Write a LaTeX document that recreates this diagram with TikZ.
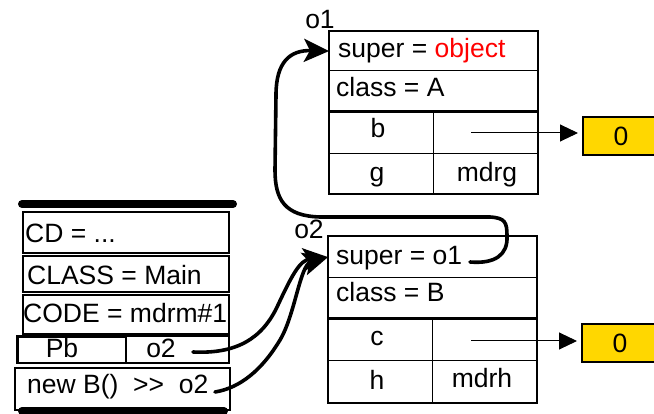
\documentclass[tikz,border=0pt]{standalone}
\usepackage{fontspec}
\setmainfont{Liberation Sans}
\usetikzlibrary{arrows.meta}
\definecolor{gold}{RGB}{255,215,0}
\tikzset{
  txt/.style={font=\fontsize{26.5}{30}\selectfont, inner sep=0pt},
  cellbox/.style={draw, line width=1.2pt, inner sep=0pt, anchor=north west},
  sbox/.style={draw, line width=2pt, inner sep=0pt, anchor=north west},
  frame/.style={line width=2.4pt},
  bar/.style={line width=8pt, line cap=round},
  link/.style={line width=3.6pt, line cap=round, -{Stealth[length=25pt,width=23pt,inset=6pt]}},
  ptr/.style={line width=1pt, shorten >=4pt, -{Triangle[length=18pt,width=17pt]}},
  zerobox/.style={draw, line width=2pt, fill=gold, inner sep=0pt, minimum width=76pt, minimum height=38pt, anchor=north west, font=\fontsize{26.5}{30}\selectfont}
}
\begin{document}
\begin{tikzpicture}[x=1pt,y=-1pt]
\useasboundingbox (0,0) rectangle (654,414);
\begin{scope}
\clip (0,0) rectangle (654,414);
% ---------- object o1 ----------
\node[txt] (o1lab) at (320,20) {o1};
\node[cellbox, minimum width=208pt, minimum height=39pt] (o1superbox) at (329,31) {};
\node[cellbox, minimum width=208pt, minimum height=40pt] (o1classbox) at (329,70) {};
\draw[frame] (o1superbox.north west) rectangle (o1classbox.south east);
\node[txt, anchor=base west] (o1super) at (338,58) {super = \textcolor{red}{object}};
\node[txt, anchor=base west] (o1class) at (336,97) {class = A};
\node[cellbox, minimum width=104pt, minimum height=41pt] (o1b) at (329,112) {};
\node[cellbox, minimum width=104pt, minimum height=41pt] (o1bv) at (433,112) {};
\node[cellbox, minimum width=104pt, minimum height=40pt] (o1g) at (329,153) {};
\node[cellbox, minimum width=104pt, minimum height=40pt] (o1gv) at (433,153) {};
\draw[frame] (o1b.north west) rectangle (o1gv.south east);
\node[txt, anchor=base] (o1bt) at (378,138) {b};
\node[txt, anchor=base] (o1gt) at (377,182) {g};
\node[txt, anchor=base] (o1gvt) at (487,182) {mdrg};
\node[zerobox] (zero1) at (582,116) {0};
\coordinate (p1) at (471,133);
\draw[ptr] (p1) -- (p1 -| zero1.west);
% ---------- object o2 ----------
\node[txt] (o2lab) at (309,229) {o2};
\node[cellbox, minimum width=208pt, minimum height=41pt] (o2superbox) at (328,236) {};
\node[cellbox, minimum width=208pt, minimum height=40pt] (o2classbox) at (328,277) {};
\draw[frame] (o2superbox.north west) rectangle (o2classbox.south east);
\node[txt, anchor=base west] (o2super) at (336,265) {super = o1};
\node[txt, anchor=base west] (o2class) at (336,302) {class = B};
\node[cellbox, minimum width=104pt, minimum height=41pt] (o2c) at (328,319) {};
\node[cellbox, minimum width=104pt, minimum height=41pt] (o2cv) at (432,319) {};
\node[cellbox, minimum width=104pt, minimum height=42pt] (o2h) at (328,360) {};
\node[cellbox, minimum width=104pt, minimum height=42pt] (o2hv) at (432,360) {};
\draw[frame] (o2c.north west) rectangle (o2hv.south east);
\node[txt, anchor=base] (o2ct) at (377,346) {c};
\node[txt, anchor=base] (o2htx) at (377,389) {h};
\node[txt, anchor=base] (o2hvt) at (482,388) {mdrh};
\node[zerobox] (zero2) at (581,323) {0};
\coordinate (p2) at (471,341);
\draw[ptr] (p2) -- (p2 -| zero2.west);
% ---------- stack frame ----------
\coordinate (topbarL) at (22,204);
\coordinate (topbarR) at (233,204);
\draw[bar] (topbarL) -- (topbarR);
\node[sbox, minimum width=206pt, minimum height=41pt] (cdbox) at (22,211) {};
\node[txt, anchor=base west] (cd) at (25,243) {CD = ...};
\node[sbox, minimum width=206pt, minimum height=36pt] (classbox) at (22,255) {};
\node[txt, anchor=base west] (cls) at (27,285) {CLASS = Main};
\node[sbox, minimum width=206pt, minimum height=39pt] (codebox) at (22,294) {};
\node[txt, anchor=base west] (code) at (23,323) {CODE = mdrm\#1};
\node[sbox, minimum width=108pt, minimum height=26pt] (pbbox) at (17,336) {};
\node[sbox, minimum width=103pt, minimum height=26pt, line width=1.2pt] (pbvbox) at (125,336) {};
\draw[line width=2pt] (pbbox.north west) rectangle (pbvbox.south east);
\node[txt, anchor=base] (pb) at (62,358) {Pb};
\node[txt, anchor=base] (pbv) at (161,358) {o2};
\node[sbox, minimum width=215pt, minimum height=42pt] (newbox) at (14,367) {};
\node[txt, anchor=base west] (newb) at (27,393) {new B()~~>{}>~~o2};
\coordinate (botbarL) at (22,411);
\coordinate (botbarR) at (224,411);
\draw[bar] (botbarL) -- (botbarR);
% ---------- references ----------
\coordinate (pbref) at (193,352);
\coordinate (newref) at (215,392);
\coordinate (o2ref) at (470,262);
\draw[link] (pbref) .. controls (235,354) and (262,340) .. (278,305)
   .. controls (292,275) and (300,260) .. (o2superbox.west);
\draw[link] (newref) .. controls (240,388) and (262,370) .. (280,340)
   .. controls (295,315) and (300,265) .. (o2superbox.west);
\draw[link] (o2ref) .. controls (495,264) and (508,255) .. (507,236)
   .. controls (507,222) and (505,218) .. (490,217) -- (320,217)
   .. controls (285,216) and (275,200) .. (275,170) -- (276,95)
   .. controls (276,62) and (290,50) .. (o1superbox.west);
\end{scope}
\end{tikzpicture}
\end{document}
